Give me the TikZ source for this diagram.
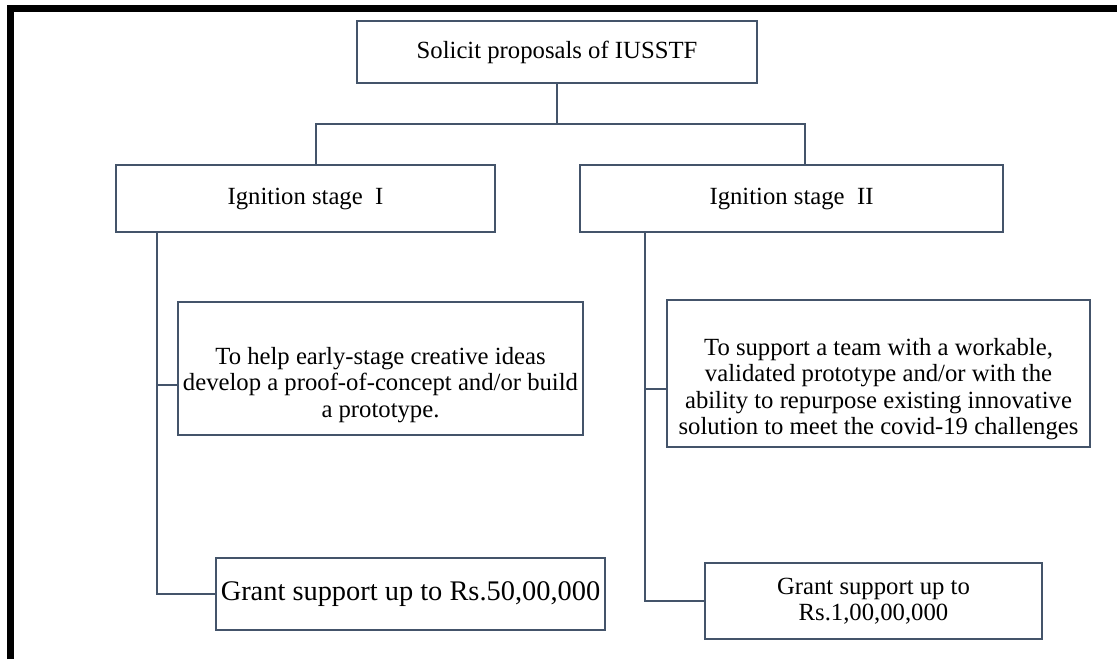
\documentclass[tikz,border=0pt]{standalone}
\usepackage{fontspec}
\setmainfont{Liberation Serif}
\usetikzlibrary{calc}
\definecolor{slate}{HTML}{44546A}

\begin{document}
\begin{tikzpicture}[x=1pt,y=-1pt,
            box/.style={draw=slate,line width=2.7,inner sep=0,align=center,font=\fontsize{24.7}{26.5}\selectfont},
            txt/.style={inner sep=0,align=center,font=\fontsize{24.7}{26.5}\selectfont},
            link/.style={draw=slate,line width=2}
            ]
            \useasboundingbox (0,0) rectangle (1117,659);
            % page frame, open at right and bottom
            \draw[line width=6.6] (10.7,659) |- (1117,8.3);

            \node[box,minimum width=400,minimum height=62] (top) at (557,52) {Solicit proposals of IUSSTF};
            \node[box,minimum width=379,minimum height=67] (st1) at (305.5,198.5) {Ignition stage\ \ I};
            \node[box,minimum width=423,minimum height=67] (st2) at (791.5,198.5) {Ignition stage\ \ II};

            % aims: text sits low in the box
            \node[box,minimum width=405,minimum height=133] (aim1) at (380.5,368.5) {};
            \node[txt] (aim1txt) at (380.5,385) {To help early-stage creative ideas\\develop a proof-of-concept and/or build\\a prototype.};
            \node[box,minimum width=423,minimum height=147] (aim2) at (878.5,373.5) {};
            \node[txt] (aim2txt) at (878.5,389) {To support a team with a workable,\\validated prototype and/or with the\\ability to repurpose existing innovative\\solution to meet the covid-19 challenges};

            \node[box,minimum width=389,minimum height=72,font=\fontsize{28.4}{30}\selectfont] (grant1) at (410.5,594) {Grant support up to Rs.50,00,000};
            \node[box,minimum width=337,minimum height=76] (grant2) at (873.5,601) {Grant support up to\\Rs.1,00,00,000};

            % tree
            \coordinate (hubL) at (316,124);
            \coordinate (hubR) at (805,124);
            \draw[link] (top.south) -- (top.south |- hubL);
            \draw[link] (st1.north -| hubL) |- (hubR) -- (st2.north -| hubR);

            \coordinate (trunk1) at (157,0);
            \coordinate (trunk2) at (645,0);
            \draw[link] (st1.south -| trunk1) |- (grant1.west);
            \draw[link] (trunk1 |- aim1txt) -- (aim1.west |- aim1txt);
            \draw[link] (st2.south -| trunk2) |- (grant2.west);
            \draw[link] (trunk2 |- aim2txt) -- (aim2.west |- aim2txt);
        \end{tikzpicture}
\end{document}
